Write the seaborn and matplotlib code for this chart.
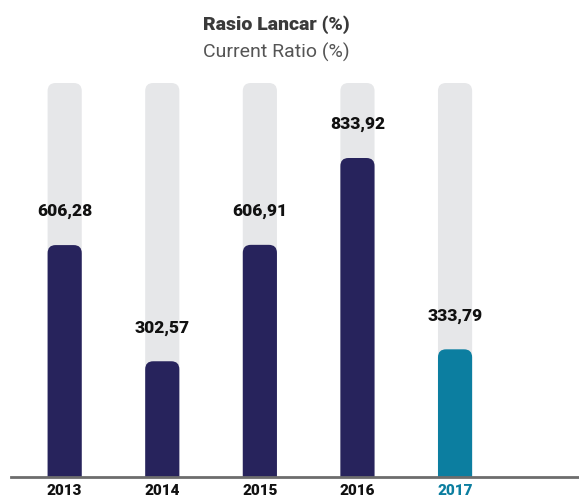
import matplotlib
matplotlib.use('Agg')
import matplotlib.pyplot as plt
from matplotlib.patches import FancyBboxPatch
import seaborn as sns
import pandas as pd

# data
years = ['2013', '2014', '2015', '2016', '2017']
ratio = [606.28, 302.57, 606.91, 833.92, 333.79]
track_max = 1030  # height of the grey background track

navy = '#27235c'
teal = '#0c7ea0'
grey = '#e6e7e9'

sns.set_style('white')
plt.rcParams['font.family'] = ['Roboto', 'DejaVu Sans']

df = pd.DataFrame({'year': years, 'ratio': ratio, 'track': [track_max] * len(years)})
bar_colors = [navy] * 4 + [teal]

fig = plt.figure(figsize=(5.79, 5.02), dpi=100)
ax = fig.add_axes([11 / 579, 1 - 478 / 502, 1 - 11 / 579, (478 - 84) / 502])

sns.barplot(data=df, x='year', y='track', color=grey, width=0.35,
            saturation=1, ax=ax, zorder=1)
sns.barplot(data=df, x='year', y='ratio', hue='year', palette=bar_colors,
            legend=False, width=0.35, saturation=1, ax=ax, zorder=2)

ax.set_xlim(-0.55, 5.27)
ax.set_ylim(0, track_max)

# rounded tops: swap rectangles for rounded boxes with the same geometry
fig.canvas.draw()
bbox = ax.get_window_extent()
px_x = bbox.width / (ax.get_xlim()[1] - ax.get_xlim()[0])
px_y = bbox.height / (ax.get_ylim()[1] - ax.get_ylim()[0])
radius_px = 8
aspect = px_x / px_y
for rect in list(ax.patches):
    x0, w, h = rect.get_x(), rect.get_width(), rect.get_height()
    ext = 40  # push the bottom below the axis so only the top corners show
    rb = FancyBboxPatch((x0, -ext), w, h + ext,
                        boxstyle=f'round,pad=0,rounding_size={radius_px / px_x}',
                        mutation_aspect=aspect,
                        facecolor=rect.get_facecolor(), edgecolor='none',
                        zorder=rect.get_zorder())
    rect.remove()
    ax.add_patch(rb)

for i, v in enumerate(ratio):
    ax.annotate(f'{v:.2f}'.replace('.', ','), (i, v), xytext=(0, 25),
                textcoords='offset points', ha='center', va='center',
                fontsize=12.5, fontweight=900, color='#111111')

sns.despine(ax=ax, left=True)
ax.spines['bottom'].set_color('#6d6d6d')
ax.spines['bottom'].set_linewidth(2)
ax.spines['bottom'].set_zorder(5)
ax.set_yticks([])
ax.set_xlabel('')
ax.set_ylabel('')
ax.tick_params(axis='x', length=0, pad=4)
for lab in ax.get_xticklabels():
    lab.set_fontweight(900)
    lab.set_fontsize(11)
    lab.set_color('#111111')
ax.get_xticklabels()[-1].set_color(teal)

fig.text(0.478, 1 - 25 / 502, 'Rasio Lancar (%)', ha='center', va='center',
         fontsize=14, fontweight=900, color='#3a3a3a')
fig.text(0.478, 1 - 52 / 502, 'Current Ratio (%)', ha='center', va='center',
         fontsize=14, color='#555555')

plt.savefig('out.png', dpi=100)
